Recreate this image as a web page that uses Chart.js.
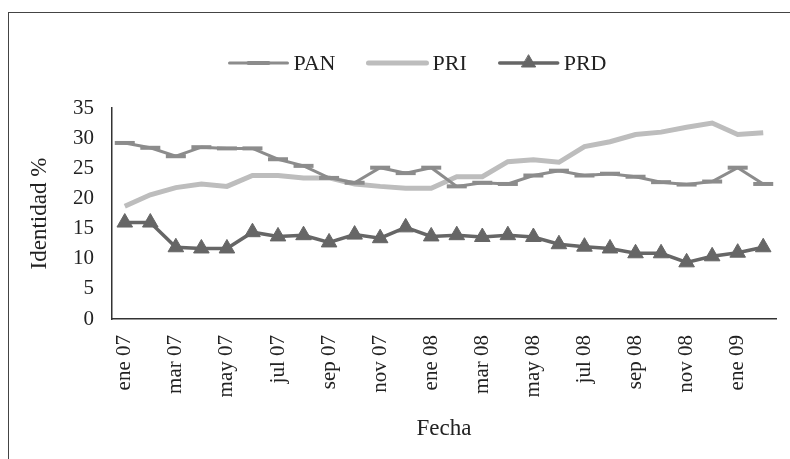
<!DOCTYPE html>
<html>
<head>
<meta charset="utf-8">
<script src="https://cdn.jsdelivr.net/npm/chart.js@4/dist/chart.umd.min.js"></script>
<style>
  html, body { margin: 0; padding: 0; background: #fff; }
  #wrap { position: relative; width: 790px; height: 459px; }
  #frame { position: absolute; left: 8px; top: 12px; width: 800px; height: 460px;
           border-left: 1.5px solid #444; border-top: 1.5px solid #444; pointer-events: none; }
</style>
</head>
<body>
<div id="wrap">
  <canvas id="chart" width="790" height="459"></canvas>
  <div id="frame"></div>
</div>
<script>
const months = ["ene", "feb", "mar", "abr", "may", "jun", "jul", "ago", "sep", "oct", "nov", "dic"];
const years = ["07", "08", "09"];
const fechas = [];
years.forEach(yr => months.forEach(m => fechas.push(m + " " + yr)));
const labels = fechas.slice(0, 26); // ene 07 .. feb 09

const pan = [29.2, 28.4, 27.0, 28.5, 28.3, 28.3, 26.5, 25.4, 23.4, 22.6, 25.1, 24.2, 25.1,
             22.0, 22.6, 22.4, 23.8, 24.6, 23.8, 24.1, 23.6, 22.7, 22.3, 22.8, 25.1, 22.4];
const pri = [18.7, 20.6, 21.8, 22.4, 22.0, 23.8, 23.8, 23.4, 23.4, 22.4, 22.0, 21.7, 21.7,
             23.6, 23.6, 26.1, 26.4, 26.0, 28.6, 29.4, 30.6, 31.0, 31.8, 32.5, 30.6, 30.9];
const prd = [16.0, 16.0, 11.9, 11.7, 11.7, 14.4, 13.7, 13.9, 12.7, 14.0, 13.4, 15.2, 13.7,
             13.9, 13.6, 13.9, 13.6, 12.4, 12.0, 11.7, 10.9, 10.9, 9.4, 10.4, 11.0, 11.9];

const serif = "'Liberation Serif', 'DejaVu Serif', serif";

// legend drawn on the canvas: line sample with marker, then the name
const lineLegend = {
    id: 'lineLegend',
    afterDraw(chart) {
        const ctx = chart.ctx;
        const sample = 58;
        const gap = 33;
        ctx.save();
        ctx.font = "22px " + serif;
        const items = chart.data.datasets.map(ds => ({ds, w: sample + 6 + ctx.measureText(ds.label).width}));
        const total = items.reduce((s, it) => s + it.w, 0) + gap * (items.length - 1);
        let x = 418 - total / 2;
        const y = 63;
        items.forEach(({ds, w}) => {
            ctx.strokeStyle = ds.borderColor;
            ctx.lineWidth = ds.borderWidth;
            ctx.lineCap = 'round';
            ctx.beginPath();
            ctx.moveTo(x, y);
            ctx.lineTo(x + sample, y);
            ctx.stroke();
            if (ds.pointStyle) {
                ctx.fillStyle = ds.borderColor;
                ctx.strokeStyle = ds.borderColor;
                ctx.lineWidth = ds.pointBorderWidth;
                Chart.helpers.drawPoint(ctx, {
                    pointStyle: ds.pointStyle,
                    radius: ds.pointStyle === 'triangle' ? 8 : ds.pointRadius,
                    borderWidth: ds.pointBorderWidth
                }, x + sample / 2, y);
            }
            ctx.fillStyle = '#222';
            ctx.textBaseline = 'middle';
            ctx.fillText(ds.label, x + sample + 6, y + 1);
            x += w + gap;
        });
        ctx.restore();
    }
};

new Chart(document.getElementById('chart'), {
    type: 'line',
    data: {
        labels: labels,
        datasets: [
            {
                label: 'PAN',
                data: pan,
                borderColor: '#8c8c8c',
                borderWidth: 3,
                pointStyle: 'line',
                pointRadius: 10,
                pointBorderWidth: 4,
                pointBorderColor: '#8c8c8c',
                tension: 0
            },
            {
                label: 'PRI',
                data: pri,
                borderColor: '#bdbdbd',
                borderWidth: 5,
                pointStyle: false,
                pointRadius: 0,
                pointBorderWidth: 0,
                tension: 0
            },
            {
                label: 'PRD',
                data: prd,
                borderColor: '#666666',
                borderWidth: 3.5,
                pointStyle: 'triangle',
                pointRadius: 9,
                pointBorderWidth: 1,
                pointBackgroundColor: '#666666',
                pointBorderColor: '#666666',
                tension: 0
            }
        ]
    },
    options: {
        responsive: false,
        animation: false,
        layout: {
            padding: { left: 22, right: 12, top: 108, bottom: 10 }
        },
        plugins: {
            legend: { display: false },
            tooltip: { enabled: false }
        },
        scales: {
            x: {
                offset: true,
                grid: { display: false },
                border: { display: true, color: '#333', width: 1.5 },
                ticks: {
                    autoSkip: false,
                    maxRotation: 90,
                    minRotation: 90,
                    padding: 8,
                    color: '#222',
                    font: { family: serif, size: 21 },
                    callback: function (val, i) {
                        return i % 2 ? '' : this.getLabelForValue(val);
                    }
                },
                title: {
                    display: true,
                    text: 'Fecha',
                    color: '#222',
                    font: { family: serif, size: 23 },
                    padding: { bottom: 6 }
                },
                afterFit: (s) => {
                    s.height = 130;
                    s.paddingLeft = 0;
                    s.paddingRight = 0;
                }
            },
            y: {
                min: 0,
                max: 35,
                grid: { display: false },
                border: { display: true, color: '#333', width: 1.5 },
                ticks: {
                    stepSize: 5,
                    padding: 10,
                    color: '#222',
                    font: { family: serif, size: 21 }
                },
                title: {
                    display: true,
                    text: 'Identidad %',
                    color: '#222',
                    font: { family: serif, size: 23 },
                    padding: { top: 4 }
                },
                afterFit: (s) => { s.width = 90; }
            }
        }
    },
    plugins: [lineLegend]
});
</script>
</body>
</html>
